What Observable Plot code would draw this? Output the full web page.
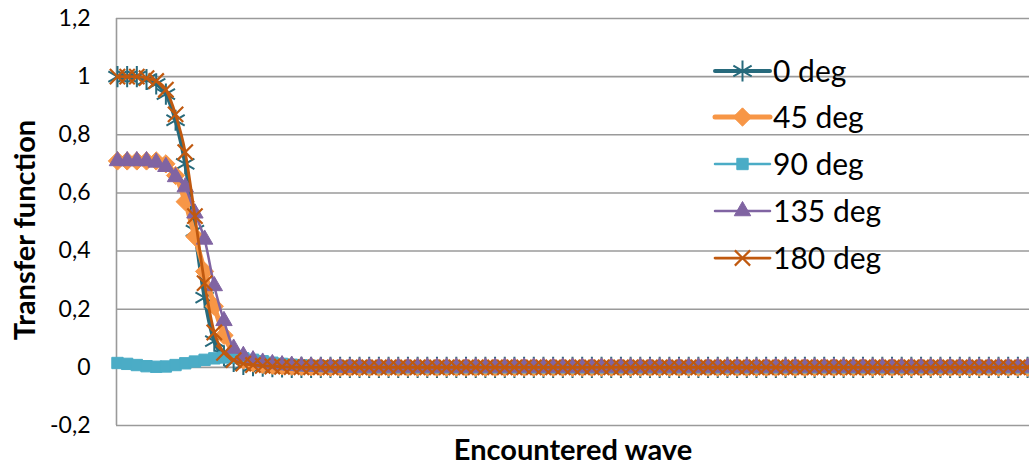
<!DOCTYPE html>
<html>
<head>
<meta charset="utf-8">
<script src="https://cdn.jsdelivr.net/npm/d3@7"></script>
<script src="https://cdn.jsdelivr.net/npm/@observablehq/plot@0.6"></script>
<style>
  html, body { margin: 0; padding: 0; background: #fff; }
  #chart { position: relative; width: 1029px; height: 464px; }
</style>
</head>
<body>
<div id="chart"></div>
<script>
// ---------- data ----------
const seriesNames = ["0 deg", "45 deg", "90 deg", "135 deg", "180 deg"];
const seriesColors = ["#276A7C", "#F79646", "#4BACC6", "#8064A2", "#C0590F"];

const deg0 = [
  1.0, 1.0, 1.0, 0.99, 0.975, 0.94, 0.85, 0.70, 0.47, 0.24,
  0.09, 0.04, 0.02, 0.01, 0.006, 0.004, 0.002, 0.001, 0, 0,
  0, 0, 0, 0, 0, 0, 0, 0, 0, 0,
  0, 0, 0, 0, 0, 0, 0, 0, 0, 0,
  0, 0, 0, 0, 0, 0, 0, 0, 0, 0,
  0, 0, 0, 0, 0, 0, 0, 0, 0, 0,
  0, 0, 0, 0, 0, 0, 0, 0, 0, 0,
  0, 0, 0, 0, 0, 0, 0, 0, 0, 0,
  0, 0, 0, 0, 0, 0, 0, 0, 0, 0,
  0, 0, 0, 0, 0
];
const deg45 = [
  0.71, 0.71, 0.71, 0.71, 0.71, 0.70, 0.66, 0.57, 0.45, 0.33,
  0.21, 0.11, 0.05, 0.025, 0.015, 0.01, 0.007, 0.005, 0.004, 0.003,
  0.002, 0.001, 0, 0, 0, 0, 0, 0, 0, 0,
  0, 0, 0, 0, 0, 0, 0, 0, 0, 0,
  0, 0, 0, 0, 0, 0, 0, 0, 0, 0,
  0, 0, 0, 0, 0, 0, 0, 0, 0, 0,
  0, 0, 0, 0, 0, 0, 0, 0, 0, 0,
  0, 0, 0, 0, 0, 0, 0, 0, 0, 0,
  0, 0, 0, 0, 0, 0, 0, 0, 0, 0,
  0, 0, 0, 0, 0
];
const deg90 = [
  0.015, 0.012, 0.008, 0.004, 0.002, 0.003, 0.008, 0.014, 0.02, 0.026,
  0.031, 0.034, 0.034, 0.031, 0.026, 0.021, 0.016, 0.012, 0.009, 0.007,
  0.005, 0.004, 0.003, 0.002, 0.002, 0.001, 0, 0, 0, 0,
  0, 0, 0, 0, 0, 0, 0, 0, 0, 0,
  0, 0, 0, 0, 0, 0, 0, 0, 0, 0,
  0, 0, 0, 0, 0, 0, 0, 0, 0, 0,
  0, 0, 0, 0, 0, 0, 0, 0, 0, 0,
  0, 0, 0, 0, 0, 0, 0, 0, 0, 0,
  0, 0, 0, 0, 0, 0, 0, 0, 0, 0,
  0, 0, 0, 0, 0
];
const deg135 = [
  0.71, 0.71, 0.71, 0.71, 0.705, 0.69, 0.655, 0.62, 0.53, 0.44,
  0.28, 0.16, 0.065, 0.04, 0.025, 0.017, 0.012, 0.008, 0.006, 0.004,
  0.003, 0.002, 0.001, 0, 0, 0, 0, 0, 0, 0,
  0, 0, 0, 0, 0, 0, 0, 0, 0, 0,
  0, 0, 0, 0, 0, 0, 0, 0, 0, 0,
  0, 0, 0, 0, 0, 0, 0, 0, 0, 0,
  0, 0, 0, 0, 0, 0, 0, 0, 0, 0,
  0, 0, 0, 0, 0, 0, 0, 0, 0, 0,
  0, 0, 0, 0, 0, 0, 0, 0, 0, 0,
  0, 0, 0, 0, 0
];
const deg180 = [
  1.0, 1.0, 1.0, 0.995, 0.985, 0.955, 0.87, 0.74, 0.52, 0.29,
  0.12, 0.05, 0.025, 0.013, 0.008, 0.005, 0.003, 0.002, 0.001, 0,
  0, 0, 0, 0, 0, 0, 0, 0, 0, 0,
  0, 0, 0, 0, 0, 0, 0, 0, 0, 0,
  0, 0, 0, 0, 0, 0, 0, 0, 0, 0,
  0, 0, 0, 0, 0, 0, 0, 0, 0, 0,
  0, 0, 0, 0, 0, 0, 0, 0, 0, 0,
  0, 0, 0, 0, 0, 0, 0, 0, 0, 0,
  0, 0, 0, 0, 0, 0, 0, 0, 0, 0,
  0, 0, 0, 0, 0
];

const yTicks = [-0.2, 0, 0.2, 0.4, 0.6, 0.8, 1, 1.2];
const yTickLabels = ["-0,2", "0", "0,2", "0,4", "0,6", "0,8", "1", "1,2"];
const xTitle = "Encountered wave";
const yTitle = "Transfer function";

// ---------- symbols ----------
const diamondSym = {
  draw(ctx, size) {
    const r = Math.sqrt(size / 2);
    ctx.moveTo(0, -r); ctx.lineTo(r, 0); ctx.lineTo(0, r); ctx.lineTo(-r, 0); ctx.closePath();
  }
};
const styles = [
  {symbol: d3.symbolAsterisk, r: 10, filled: false, lw: 4, mw: 2},
  {symbol: diamondSym, r: 7.3, filled: true, lw: 5, mw: 1},
  {symbol: d3.symbolSquare, r: 6.4, filled: true, lw: 2.5, mw: 1},
  {symbol: d3.symbolTriangle, r: 6.1, filled: true, lw: 2.5, mw: 1},
  {symbol: d3.symbolTimes, r: 7, filled: false, lw: 2.75, mw: 2.2}
];

const allSeries = [deg0, deg45, deg90, deg135, deg180];
const tables = allSeries.map((vals, s) => vals.map((v, i) => ({x: i, y: v, series: seriesNames[s]})));

const marks = [
  Plot.ruleY(yTicks, {stroke: "#9a9a9a", strokeWidth: 1.6, strokeOpacity: 1}),
  Plot.ruleX([-0.1], {stroke: "#9a9a9a", strokeWidth: 1.6}),
];
tables.forEach((t, s) => {
  const st = styles[s];
  marks.push(Plot.line(t, {x: "x", y: "y", stroke: seriesColors[s], strokeWidth: st.lw, curve: "monotone-x"}));
  marks.push(Plot.dot(t, {
    x: "x", y: "y", symbol: st.symbol, r: st.r,
    fill: st.filled ? seriesColors[s] : "none",
    stroke: seriesColors[s], strokeWidth: st.mw
  }));
});
marks.push(Plot.text([yTitle], {frameAnchor: "left", dx: -91, dy: 8, rotate: -90, text: d => d,
  textAnchor: "middle", lineAnchor: "middle",
  fontSize: 29, fontWeight: "bold", fill: "#000"}));
marks.push(Plot.text([xTitle], {frameAnchor: "bottom", dy: 25, text: d => d,
  textAnchor: "middle", lineAnchor: "middle",
  fontSize: 29, fontWeight: "bold", fill: "#000"}));

const chart = Plot.plot({
  width: 1029,
  height: 464,
  marginLeft: 116,
  marginRight: 0,
  marginTop: 18,
  marginBottom: 39,
  style: {fontFamily: "Lato, sans-serif", fontSize: "23px", color: "#000", background: "#fff", overflow: "visible"},
  x: {domain: [-0.1, 94.2], axis: null},
  y: {domain: [-0.2, 1.2], ticks: yTicks, tickFormat: d => yTickLabels[yTicks.indexOf(d)],
      tickSize: 0, tickPadding: 26, label: null},
  marks
});
document.getElementById("chart").appendChild(chart);

// ---------- legend (inside plot area, right side) ----------
const svg = d3.select(chart);
const lg = svg.append("g").attr("class", "legend").attr("text-anchor", "start");
const rowY = [71, 117, 164, 211, 258];
seriesNames.forEach((name, s) => {
  const st = styles[s];
  const g = lg.append("g").attr("transform", `translate(0,${rowY[s]})`);
  g.append("line").attr("x1", 715).attr("x2", 770).attr("y1", 0).attr("y2", 0)
    .attr("stroke", seriesColors[s]).attr("stroke-width", st.lw).attr("stroke-linecap", "round");
  g.append("path").attr("transform", "translate(742.5,0)")
    .attr("d", d3.symbol().type(st.symbol).size(Math.PI * st.r * st.r)())
    .attr("fill", st.filled ? seriesColors[s] : "none")
    .attr("stroke", seriesColors[s]).attr("stroke-width", st.mw);
  g.append("text").attr("x", 773).attr("y", 0).attr("dy", "0.35em")
    .attr("text-anchor", "start")
    .attr("font-family", "Lato, sans-serif").attr("font-size", 30).attr("fill", "#000")
    .text(name);
});
</script>
</body>
</html>
